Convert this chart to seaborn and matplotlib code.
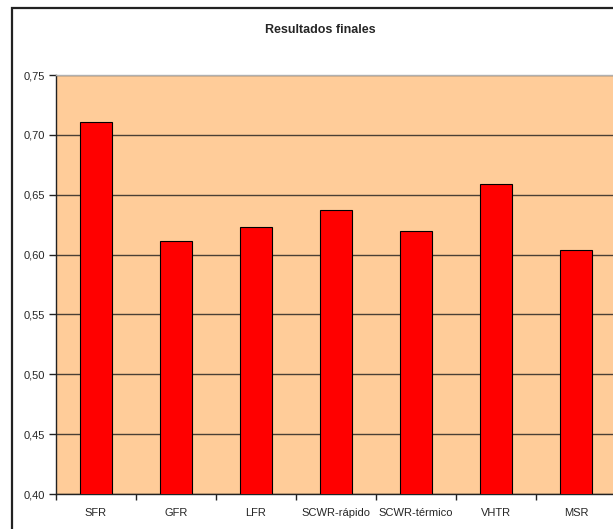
import matplotlib
matplotlib.use("Agg")
import matplotlib.pyplot as plt
import matplotlib.patches as mpatches
from matplotlib.ticker import FuncFormatter, FixedLocator
import seaborn as sns
import pandas as pd

# Final results per reactor concept
reactores = ["SFR", "GFR", "LFR", "SCWR-rápido", "SCWR-térmico", "VHTR", "MSR"]
resultados = [0.711, 0.611, 0.623, 0.637, 0.620, 0.659, 0.604]
titulo = "Resultados finales"

df = pd.DataFrame({"reactor": reactores, "valor": resultados})

sns.set_style("white")
plt.rcParams["font.family"] = ["Liberation Sans", "DejaVu Sans"]

fig = plt.figure(figsize=(6.13, 5.29), dpi=100)
W, H = 613, 529

# Chart frame around the whole figure area
frame = mpatches.Rectangle((12 / W, -0.05), 1.2, (H - 8) / H + 0.05,
                           transform=fig.transFigure, fill=False,
                           edgecolor="#222222", linewidth=1.6, zorder=0)
fig.patches.append(frame)

ax = fig.add_axes([56 / W, 35 / H, 560 / W, 419 / H])
ax.set_facecolor("#FFCC99")

sns.barplot(data=df, x="reactor", y="valor", color="#FF0000",
            saturation=1, width=0.41, edgecolor="black", linewidth=0.8,
            ax=ax, zorder=3)

ax.set_ylim(0.40, 0.75)
ax.set_xlim(-0.5, len(reactores) - 0.5)
ax.set_yticks([0.40, 0.45, 0.50, 0.55, 0.60, 0.65, 0.70, 0.75])
ax.yaxis.set_major_formatter(FuncFormatter(lambda v, _: f"{v:.2f}".replace(".", ",")))
ax.yaxis.grid(True, color="#4a3f35", linewidth=1.0, zorder=1)
ax.set_axisbelow(True)

# category separators on the x axis
ax.xaxis.set_minor_locator(FixedLocator([i + 0.5 for i in range(-1, len(reactores))]))
ax.tick_params(axis="x", which="major", bottom=False, length=0, labelsize=8, pad=10)
ax.tick_params(axis="x", which="minor", bottom=True, length=4, width=1,
               color="#222222", direction="out")
ax.tick_params(axis="y", which="major", left=True, length=5, width=1, color="#222222",
               direction="out", labelsize=8, pad=3)

ax.set_xlabel("")
ax.set_ylabel("")
for side in ("left", "bottom"):
    ax.spines[side].set_color("#222222")
    ax.spines[side].set_linewidth(1.0)
ax.spines["top"].set_color("#b0b0b0")
ax.spines["top"].set_linewidth(1.0)
ax.spines["right"].set_visible(False)

fig.text(320 / W, 1 - 30 / H, titulo, ha="center", va="center",
         fontsize=9, fontweight="bold")

fig.savefig("out.png", dpi=100)
